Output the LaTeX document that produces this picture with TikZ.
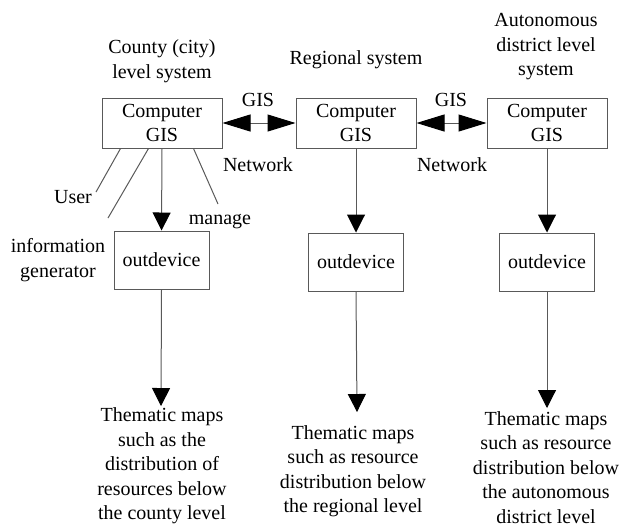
\documentclass[tikz,border=0pt]{standalone}
\usepackage{fontspec}
\setmainfont{Liberation Serif}
\usetikzlibrary{arrows.meta,calc}
\begin{document}
\begin{tikzpicture}[x=0.5pt,y=-0.5pt,
  every node/.style={font=\fontsize{10}{12.25}\selectfont, inner sep=0pt},
  box/.style={draw=black!65, line width=0.5pt, minimum width=60pt, minimum height=25pt, align=center},
  outbox/.style={draw=black!65, line width=0.5pt, minimum width=47.5pt, minimum height=29pt},
  lbl/.style={align=center},
  conn/.style={draw=black!65, line width=0.5pt},
  down/.style={conn, -{Triangle[length=9pt,width=9pt,color=black]}},
  bi/.style={conn, {Triangle[length=14pt,width=8.5pt,color=black]}-{Triangle[length=14pt,width=8.5pt,color=black]}}]
\useasboundingbox (0,0) rectangle (619,527);
% titles
\node[lbl] (h1) at (162,61) {County (city)\\level system};
\node[lbl] (h2) at (356,60) {Regional system};
\node[lbl] (h3) at (546,47) {Autonomous\\district level\\system};
% computer boxes
\node[box] (c1) at (162,123) {Computer\\GIS};
\node[box] (c2) at (356,123) {Computer\\GIS};
\node[box] (c3) at (547,123) {Computer\\GIS};
% output devices
\node[outbox] (o1) at (161.5,260) {outdevice};
\node[outbox] (o2) at (356,262) {outdevice};
\node[outbox] (o3) at (547,262) {outdevice};
% network labels
\node (g1) at (258,100) {GIS};
\node (n1) at (258,165) {Network};
\node (g2) at (451,100) {GIS};
\node (n2) at (452,165) {Network};
% side labels
\node (user) at (73,197) {User};
\node[lbl] (info) at (58,260) {information\\generator};
\node (mng) at (220,222) {manage};
% results
\node[lbl] (t1) at (162,466) {Thematic maps\\such as the\\distribution of\\resources below\\the county level};
\node[lbl] (t2) at (353,471) {Thematic maps\\such as resource\\distribution below\\the regional level};
\node[lbl] (t3) at (546,467.5) {Thematic maps\\such as resource\\distribution below\\the autonomous\\district level};
% coordinates
\coordinate (ue) at (96,192);
\coordinate (ie) at (108,218);
\coordinate (me) at (218,204);
\coordinate (p1) at (161,406);
\coordinate (p2) at (357,412);
\coordinate (p3) at (547,408);
% connectors
\draw[bi] (c1.east) -- (c2.west);
\draw[bi] (c2.east) -- (c3.west);
\draw[down] (c1.south) -- (o1.north);
\draw[down] (c2.south) -- (o2.north);
\draw[down] (c3.south) -- (o3.north);
\draw[down] (o1.south) -- (p1);
\draw[down] (o2.south) -- (p2);
\draw[down] (o3.south) -- (p3);
\draw[conn] ($(c1.south west)+(19,0)$) -- (ue);
\draw[conn] ($(c1.south west)+(47,0)$) -- (ie);
\draw[conn] ($(c1.south west)+(92,0)$) -- (me);
\end{tikzpicture}
\end{document}
